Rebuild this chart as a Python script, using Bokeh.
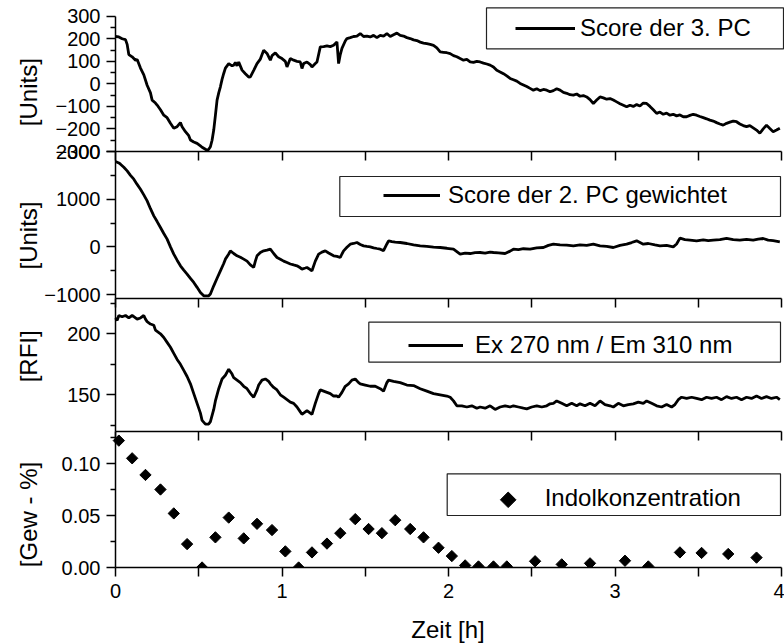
import numpy as np
from bokeh.plotting import figure
from bokeh.models import (Range1d, LinearAxis, FixedTicker, Legend, LegendItem,
                          Label, BoxAnnotation, NumeralTickFormatter)
from bokeh.embed import file_html
from bokeh.resources import INLINE

# ---------------- data ----------------
# Score der 3. PC
score3_t = [0.00,0.02,0.04,0.06,0.07,0.08,0.10,0.12,0.13,0.15,
            0.17,0.19,0.21,0.22,0.24,0.25,0.27,0.29,0.31,0.33,
            0.35,0.37,0.39,0.40,0.42,0.44,0.45,0.47,0.49,0.51,
            0.52,0.54,0.55,0.56,0.57,0.58,0.59,0.60,0.61,0.62,
            0.63,0.64,0.65,0.66,0.68,0.70,0.71,0.72,0.73,0.74,
            0.76,0.78,0.80,0.81,0.83,0.85,0.87,0.89,0.91,0.93,
            0.94,0.96,0.98,1.00,1.02,1.03,1.05,1.07,1.09,1.11,
            1.12,1.13,1.15,1.17,1.18,1.20,1.21,1.22,1.23,1.25,
            1.27,1.29,1.31,1.33,1.34,1.35,1.36,1.38,1.39,1.41,
            1.43,1.45,1.47,1.49,1.51,1.53,1.55,1.57,1.59,1.61,
            1.63,1.65,1.67,1.69,1.71,1.73,1.75,1.77,1.79,1.81,
            1.83,1.85,1.87,1.89,1.91,1.93,1.95,1.97,1.99,
            2.01,2.03,2.05,2.07,2.09,2.11,2.13,2.15,2.17,2.19,
            2.21,2.23,2.25,2.27,2.29,2.31,2.33,2.35,2.37,2.39,
            2.41,2.43,2.45,2.47,2.49,2.51,2.53,2.55,2.57,2.59,
            2.61,2.63,2.65,2.67,2.69,2.71,2.73,2.75,2.77,2.79,
            2.81,2.83,2.85,2.87,2.89,2.91,2.93,2.95,2.97,2.99,
            3.01,3.03,3.05,3.07,3.09,3.11,3.13,3.15,3.17,3.19,
            3.21,3.23,3.25,3.27,3.29,3.31,3.33,3.35,3.37,3.39,
            3.41,3.43,3.45,3.47,3.49,3.51,3.53,3.55,3.57,3.59,
            3.61,3.63,3.65,3.67,3.69,3.71,3.73,3.75,3.77,3.79,
            3.81,3.83,3.85,3.87,3.89,3.91,3.93,3.95,3.97,3.99]
score3_v = [210,208,200,196,175,130,120,105,108,70,
            40,-6,-40,-72,-85,-94,-115,-139,-150,-175,
            -197,-190,-172,-190,-212,-230,-249,-258,-264,-275,
            -281,-290,-295,-290,-279,-250,-205,-140,-72,-40,
            -13,20,46,70,90,80,83,95,80,97,
            61,45,30,31,60,90,110,149,135,105,
            125,137,120,112,100,75,112,105,100,97,
            68,90,97,85,75,90,97,130,164,165,
            168,165,171,186,90,130,157,190,201,205,
            210,212,223,210,212,208,215,205,215,212,
            223,210,218,225,215,212,205,201,195,192,
            185,181,178,175,171,160,142,140,138,
            134,125,120,112,105,108,97,95,100,97,
            92,88,83,75,60,53,45,35,24,18,
            12,2,-5,-12,-20,-28,-22,-30,-25,-28,
            -35,-30,-22,-28,-38,-42,-48,-50,-45,-55,
            -52,-58,-70,-87,-72,-58,-62,-68,-65,-72,
            -80,-88,-95,-102,-95,-100,-92,-98,-85,-87,
            -100,-115,-131,-125,-135,-130,-139,-135,-142,-138,
            -146,-146,-140,-135,-139,-145,-150,-155,-161,-165,
            -172,-178,-183,-175,-170,-165,-168,-178,-185,-190,
            -185,-195,-205,-219,-200,-183,-198,-212,-205,-197]

# Score der 2. PC gewichtet
score2_t = [0.00,0.02,0.03,0.05,0.07,0.09,0.11,0.13,0.15,0.17,
            0.19,0.21,0.23,0.25,0.27,0.29,0.31,0.33,0.35,0.37,
            0.39,0.41,0.43,0.45,0.47,0.49,0.51,0.53,0.55,0.56,
            0.57,0.59,0.61,0.63,0.65,0.66,0.68,0.69,0.71,0.73,
            0.75,0.77,0.79,0.81,0.83,0.84,0.85,0.87,0.89,0.91,
            0.93,0.95,0.97,0.99,1.01,1.03,1.05,1.07,1.09,1.11,
            1.12,1.14,1.15,1.17,1.18,1.20,1.22,1.24,1.26,1.28,
            1.31,1.33,1.35,1.36,1.37,1.39,1.41,1.43,1.45,1.47,
            1.49,1.51,1.53,1.55,1.57,1.59,1.61,1.63,1.64,1.66,
            1.68,1.71,1.75,1.79,1.83,1.87,1.91,1.95,1.99,2.03,
            2.05,2.07,2.10,2.13,2.16,2.19,2.22,2.25,2.27,2.30,
            2.34,2.37,2.39,2.42,2.45,2.49,2.53,2.57,2.60,2.63,
            2.67,2.71,2.75,2.79,2.83,2.87,2.91,2.95,2.99,3.03,
            3.07,3.10,3.13,3.17,3.20,3.24,3.27,3.31,3.35,3.37,
            3.39,3.42,3.45,3.49,3.53,3.56,3.59,3.63,3.67,3.71,
            3.75,3.79,3.83,3.86,3.89,3.92,3.95,3.99]
score2_v = [1790,1760,1733,1670,1593,1500,1419,1310,1209,1090,
            964,800,650,530,405,280,161,0,-153,-280,
            -398,-490,-572,-660,-748,-850,-958,-1027,-1030,-1027,
            -990,-818,-660,-503,-350,-258,-150,-84,-140,-189,
            -220,-258,-300,-380,-433,-300,-189,-120,-84,-70,
            -49,-140,-224,-260,-300,-329,-360,-380,-398,-440,
            -468,-445,-433,-480,-503,-300,-153,-110,-84,-130,
            -189,-200,-224,-150,-84,-10,56,70,91,50,
            21,10,0,-20,-35,-49,-80,60,126,110,
            100,91,70,40,21,10,-5,-14,-30,-49,
            -100,-153,-130,-140,-120,-119,-130,-110,-119,-125,
            -140,-90,-49,-60,-40,-49,-20,-14,30,56,
            40,35,21,40,30,56,20,10,-14,30,
            56,90,126,56,70,40,21,30,0,60,
            182,150,140,126,145,130,140,150,175,150,
            140,155,140,160,175,140,130,105]

# Fluorescence Ex 270 nm / Em 310 nm
rfi_t = [0.00,0.01,0.02,0.04,0.06,0.08,0.10,0.11,0.13,0.15,
         0.17,0.18,0.19,0.21,0.23,0.24,0.25,0.27,0.29,0.31,
         0.33,0.35,0.37,0.39,0.41,0.43,0.45,0.47,0.49,0.51,
         0.52,0.54,0.56,0.57,0.59,0.60,0.62,0.64,0.66,0.68,
         0.70,0.71,0.73,0.75,0.77,0.79,0.81,0.83,0.85,0.86,
         0.88,0.90,0.92,0.93,0.95,0.97,0.99,1.01,1.03,1.05,
         1.07,1.09,1.11,1.12,1.14,1.15,1.17,1.18,1.20,1.22,
         1.23,1.25,1.27,1.29,1.31,1.33,1.34,1.36,1.38,1.40,
         1.42,1.44,1.46,1.47,1.50,1.53,1.56,1.59,1.61,1.63,
         1.64,1.67,1.71,1.75,1.79,1.83,1.87,1.91,1.95,1.99,
         2.01,2.03,2.05,2.08,2.11,2.14,2.17,2.19,2.22,2.25,
         2.28,2.31,2.34,2.37,2.39,2.42,2.45,2.47,2.50,2.53,
         2.56,2.59,2.61,2.63,2.65,2.68,2.71,2.74,2.77,2.79,
         2.82,2.85,2.88,2.91,2.94,2.97,2.99,3.02,3.05,3.08,
         3.11,3.14,3.17,3.19,3.22,3.25,3.28,3.31,3.34,3.36,
         3.38,3.40,3.43,3.46,3.49,3.52,3.55,3.58,3.61,3.64,
         3.67,3.70,3.73,3.76,3.79,3.82,3.85,3.88,3.91,3.94,
         3.97,3.99]
rfi_v = [213,211,215,214,215,213,215,214,212,213,
         215,212,210,208,207,203,202,200,197,193,
         189,184,179,175,170,165,159,151,143,135,
         129,126,126,128,138,145,155,163,166,171,
         167,164,162,160,157,155,151,148,154,158,
         162,163,161,159,156,154,150,148,146,144,
         143,140,136,134,136,137,135,134,143,151,
         154,153,152,151,149,149,148,152,157,159,
         162,163,160,159,158,157,157,155,153,160,
         162,161,160,158,157.6,155,153,151,150,149,
         148,145,141,141,140,141,139,140,139,141,
         138,140,141,140,141,140,139,138.5,140,141,
         140,141,142.6,143,145,143,141,143,141,142.6,
         141,143,141,145,142,141,140,143,141,142,
         142.6,144,143,145,143,141,140,142,140,142,
         146,148,147,148,147,146,148,147,148,146,
         148.5,147,148,146,148,147,149,147,148.5,147,
         148,146]

# Indolkonzentration (samples)
indol_t = [0.02,0.10,0.18,0.27,0.35,0.43,0.52,0.60,0.68,0.77,
           0.85,0.94,1.02,1.10,1.18,1.27,1.35,1.44,1.52,1.60,
           1.68,1.77,1.85,1.94,2.02,2.10,2.18,2.27,2.35,2.52,
           2.68,2.85,3.06,3.20,3.39,3.52,3.68,3.85]
indol_v = [0.122,0.105,0.089,0.075,0.052,0.0225,0.0,0.029,0.048,0.028,
           0.042,0.036,0.0155,0.0,0.0145,0.023,0.033,0.0465,0.037,0.033,
           0.0455,0.037,0.029,0.019,0.011,0.002,0.001,0.001,0.001,0.006,
           0.003,0.004,0.0065,0.001,0.0145,0.014,0.013,0.0095]

# ticks
x_major = [0, 1, 2, 3, 4]
x_minor = [0.5, 1.5, 2.5, 3.5]
p1_major = [-300, -200, -100, 0, 100, 200, 300]
p1_minor = [-250, -150, -50, 50, 150, 250]
p2_major = [-1000, 0, 1000, 2000]
p2_minor = [-500, 500, 1500]
p3_major = [150, 200]
p3_minor = [125, 175, 225]
p4_major = [0.0, 0.05, 0.10]
p4_minor = [0.025, 0.075, 0.125]

# ---------------- layout ----------------
FONT = "Liberation Sans"
W, H = 784, 643
X0, X4 = 115, 781          # page columns of t = 0 h and t = 4 h


def calib(va, ya, vb, yb):
    """Map a page row (px from top) to a value of one stacked panel."""
    k = (vb - va) / (yb - ya)
    return lambda py: va + (py - ya) * k


def xpos(px):
    return (px - X0) / (X4 - X0) * 4.0


cal1 = calib(300, 15.7, -300, 151.0)
cal2 = calib(2000, 151.0, -1000, 294.0)
cal3 = calib(200, 333.3, 150, 394.3)
cal4 = calib(0.10, 463.0, 0.0, 567.0)
B1, B2, B3 = 151.0, 297.7, 430.5       # panel separators

# the frame covers the whole page; every panel gets its own y range on it
p = figure(width=W, height=H, x_range=Range1d(xpos(0), xpos(W)),
           y_range=Range1d(cal4(H), cal4(0)),
           x_axis_location=None, y_axis_location=None,
           toolbar_location=None, output_backend="svg",
           min_border_left=0, min_border_right=0,
           min_border_top=0, min_border_bottom=0,
           outline_line_color=None, background_fill_color="white",
           border_fill_color="white")
p.grid.visible = False
p.extra_y_ranges = {
    "p1": Range1d(cal1(H), cal1(0)),
    "p2": Range1d(cal2(H), cal2(0)),
    "p3": Range1d(cal3(H), cal3(0)),
}

LW = 2.8
r1 = p.line(score3_t, score3_v, y_range_name="p1", line_color="black", line_width=LW)
r2 = p.line(score2_t, score2_v, y_range_name="p2", line_color="black", line_width=LW)
r3 = p.line(rfi_t, rfi_v, y_range_name="p3", line_color="black", line_width=LW)
r4 = p.scatter(indol_t, indol_v, marker="square", angle=np.pi / 4, size=8,
               fill_color="black", line_color="black")

# markers are cut at the time axis: white out everything below zero
p.add_layout(BoxAnnotation(left=xpos(0), right=xpos(W), top=0.0, bottom=cal4(H),
                           fill_color="white", fill_alpha=1.0, line_alpha=0.0,
                           level="glyph"))


def style_axis(ax):
    ax.axis_line_color = "black"
    ax.axis_line_width = 1.5
    ax.major_tick_line_color = "black"
    ax.minor_tick_line_color = "black"
    ax.major_tick_line_width = 1.5
    ax.minor_tick_line_width = 1.5
    ax.major_tick_in = 0
    ax.minor_tick_in = 0
    ax.major_label_text_font = FONT
    ax.major_label_text_font_size = "20px"
    ax.major_label_text_color = "black"


def left_axis(name, lo, hi, major, minor, fmt=None):
    ax = LinearAxis(y_range_name=name, bounds=(lo, hi), fixed_location=0,
                    ticker=FixedTicker(ticks=major, minor_ticks=minor))
    if fmt is not None:
        ax.formatter = fmt
    style_axis(ax)
    ax.major_tick_out = 9
    ax.minor_tick_out = 5
    ax.major_label_standoff = 6
    p.add_layout(ax, "left")


def time_axis(name, loc, labelled):
    if labelled:
        tk = FixedTicker(ticks=x_major, minor_ticks=x_minor)
    else:
        tk = FixedTicker(ticks=[], minor_ticks=x_major + x_minor)
    ax = LinearAxis(y_range_name=name, fixed_location=loc, bounds=(0, 4), ticker=tk)
    style_axis(ax)
    ax.major_tick_out = 9
    ax.minor_tick_out = 9
    ax.major_label_standoff = 7
    p.add_layout(ax, "below")


left_axis("p1", cal1(B1), 300, p1_major, p1_minor)
left_axis("p2", cal2(B2), 2000, p2_major, p2_minor)
left_axis("p3", cal3(B3), cal3(B2), p3_major, p3_minor)
left_axis("default", 0.0, cal4(B3), p4_major, p4_minor,
          fmt=NumeralTickFormatter(format="0.00"))

time_axis("p1", cal1(B1), False)
time_axis("p2", cal2(B2), False)
time_axis("p3", cal3(B3), False)
time_axis("default", 0.0, True)

# axis titles
for text, py in [("[Units]", 91.7), ("[Units]", 235.0), ("[RFI]", 355.8),
                 ("[Gew - %]", 514.0)]:
    p.add_layout(Label(x=xpos(28), y=cal4(py), text=text, angle=np.pi / 2,
                       text_align="center", text_baseline="middle",
                       text_font=FONT, text_font_size="24px", text_color="black"))
p.add_layout(Label(x=xpos(447.5), y=cal4(628.5), text="Zeit [h]",
                   text_align="center", text_baseline="middle",
                   text_font=FONT, text_font_size="24px", text_color="black"))

# legend key for the sample markers (same rotated square as in the plot)
key4 = p.scatter([xpos(507.7)], [cal4(499.3)], marker="square", angle=np.pi / 4,
                 size=11, fill_color="black", line_color="black")
blank4 = p.scatter([], [], marker="square", fill_alpha=0, line_alpha=0)

# legends: (renderer, label, glyph left px, row centre px, glyph width, standoff)
ROW = 28
for rend, text, gx, cy, gw, so in [
        (r1, "Score der 3. PC", 515, 27.5, 60, 5),
        (r2, "Score der 2. PC gewichtet", 383, 195, 57, 8),
        (r3, "Ex 270 nm / Em 310 nm", 408, 345, 55, 12),
        (blank4, "Indolkonzentration", 493.7, 498, ROW, 23)]:
    leg = Legend(items=[LegendItem(label=text, renderers=[rend])],
                 location=(gx, H - (cy + ROW / 2)),
                 padding=0, spacing=0, margin=0,
                 glyph_width=gw, glyph_height=ROW, label_height=ROW,
                 label_standoff=so, label_text_font=FONT,
                 label_text_font_size="24px", label_text_color="black",
                 border_line_color=None, background_fill_alpha=0)
    p.add_layout(leg)

# legend frames
for l, r, t, b in [(486, 783, 7.3, 48.3), (339.3, 780, 176, 216),
                   (368.3, 780, 321.7, 361.7), (446.7, 780, 473.3, 515)]:
    p.add_layout(BoxAnnotation(left=xpos(l), right=xpos(r), top=cal4(t), bottom=cal4(b),
                               fill_color=None, line_color="#222222", line_width=1.2,
                               line_alpha=1.0))

open("out.html", "w").write(file_html(p, INLINE))
